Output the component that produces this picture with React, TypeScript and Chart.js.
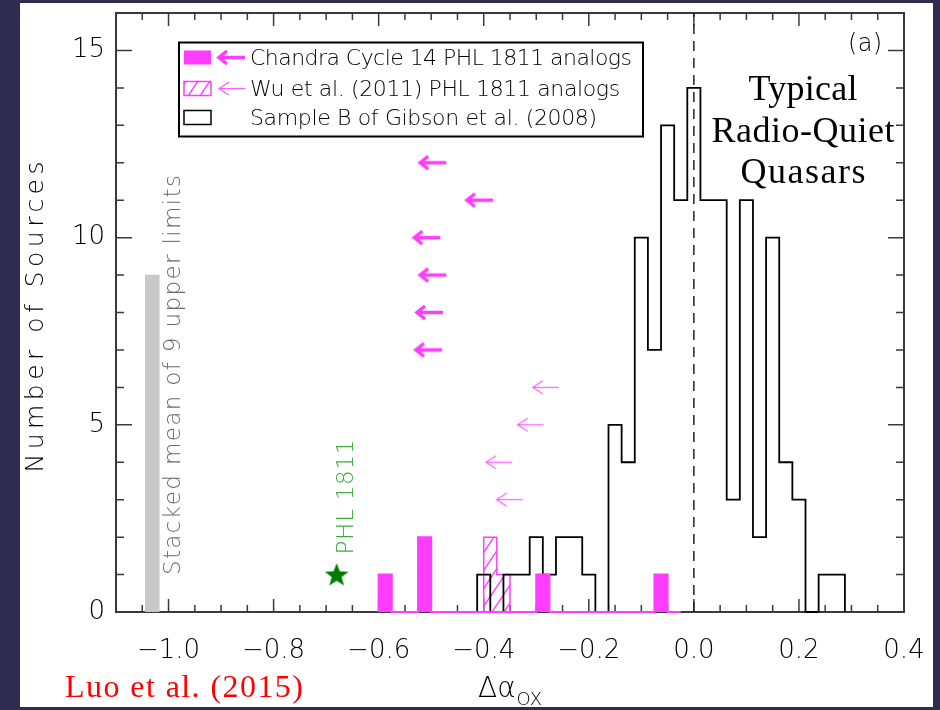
import React, { useEffect, useRef } from 'react';
import { Chart, registerables } from 'chart.js';

Chart.register(...registerables);

// ---------------- data ----------------
const BIN_WIDTH = 0.025;

// Sample B of Gibson et al. (2008): bin centres and counts
const gibsonBinCenters = [-0.4, -0.375, -0.35, -0.325, -0.3, -0.275, -0.25, -0.225, -0.2, -0.175, -0.15, -0.125, -0.1, -0.075, -0.05, -0.025, 0.0, 0.025, 0.05, 0.075, 0.1, 0.125, 0.15, 0.175, 0.2, 0.225, 0.25, 0.275];
const gibsonCounts = [1, 0, 1, 1, 2, 1, 2, 2, 1, 0, 5, 4, 10, 7, 13, 11, 14, 11, 11, 3, 11, 2, 10, 4, 3, 0, 1, 1];

// Chandra Cycle 14 PHL 1811 analogs (detections)
const chandraBinCenters = [-0.5875, -0.5625, -0.5375, -0.5125, -0.4875, -0.4625, -0.4375, -0.4125, -0.3875, -0.3625, -0.3375, -0.3125, -0.2875, -0.2625, -0.2375, -0.2125, -0.1875, -0.1625, -0.1375, -0.1125, -0.0875, -0.0625, -0.0375];
const chandraCounts = [1, 0, 0, 2, 0, 0, 0, 0, 0, 0, 0, 0, 1, 0, 0, 0, 0, 0, 0, 0, 0, 1, 0];

// Wu et al. (2011) PHL 1811 analogs (detections)
const wuBinCenters = [-0.3875, -0.3625];
const wuCounts = [2, 1];

// upper limits (arrows)
const chandraLimitX = [-0.525, -0.436, -0.536, -0.525, -0.531, -0.533];
const chandraLimitY = [12, 11, 10, 9, 8, 7];
const wuLimitX = [-0.308, -0.337, -0.397, -0.377];
const wuLimitY = [6, 5, 4, 3];

// PHL 1811 itself and the stacked mean of the 9 upper limits
const phl1811X = -0.68;
const phl1811Y = 1;
const stackedMeanX = -1.031;
const stackedMeanCount = 9;
const zeroLineX = 0;

const xTickValues = [-1.0, -0.8, -0.6, -0.4, -0.2, 0.0, 0.2, 0.4];
const yTickValues = [0, 5, 10, 15];
const X_MIN = -1.1;
const X_MAX = 0.4;
const Y_MIN = 0;
const Y_MAX = 16;

const legendLabels = [
  'Chandra Cycle 14 PHL 1811 analogs',
  'Wu et al. (2011) PHL 1811 analogs',
  'Sample B of Gibson et al. (2008)',
];

// ---------------- styles ----------------
const NAVY = '#2f2c50';
const MAGENTA = '#ff3cff';
const THIN_MAGENTA = '#ff5cff';
const AXIS = '#3a3a3a';
const GRAY_BAR = '#c8c8c8';
const SANS = '"DejaVu Sans ExtraLight", "DejaVu Sans", sans-serif';
const SERIF = '"Liberation Serif", "Times New Roman", serif';

function histogramOutline(centers: number[], counts: number[], width: number) {
  const h = width / 2;
  const pts: { x: number; y: number }[] = [];
  pts.push({ x: centers[0] - h, y: 0 });
  centers.forEach((c, i) => {
    pts.push({ x: c - h, y: counts[i] });
    pts.push({ x: c + h, y: counts[i] });
  });
  pts.push({ x: centers[centers.length - 1] + h, y: 0 });
  return pts;
}

function drawArrowShape(g: CanvasRenderingContext2D, tipX: number, y: number, len: number, headLen: number, headHalf: number, lw: number, color: string) {
  g.save();
  g.strokeStyle = color;
  g.lineWidth = lw;
  g.lineCap = 'butt';
  g.lineJoin = 'miter';
  g.beginPath();
  g.moveTo(tipX + len, y);
  g.lineTo(tipX, y);
  g.stroke();
  g.beginPath();
  g.moveTo(tipX + headLen, y - headHalf);
  g.lineTo(tipX, y);
  g.lineTo(tipX + headLen, y + headHalf);
  g.stroke();
  g.restore();
}

function makeArrowCanvas(len: number, headLen: number, headHalf: number, lw: number, color: string) {
  const c = document.createElement('canvas');
  const w = 2 * (len + 4);
  const h = 2 * (headHalf + 4);
  c.width = w;
  c.height = h;
  const g = c.getContext('2d')!;
  drawArrowShape(g, w / 2 + lw * 0.6, h / 2, len, headLen, headHalf, lw, color);
  return c;
}

function makeStarCanvas() {
  const c = document.createElement('canvas');
  c.width = 28;
  c.height = 28;
  const g = c.getContext('2d')!;
  g.fillStyle = '#007a00';
  g.beginPath();
  for (let i = 0; i < 10; i++) {
    const r = i % 2 === 0 ? 12.5 : 5.2;
    const a = -Math.PI / 2 + (i * Math.PI) / 5;
    const px = 14 + r * Math.cos(a);
    const py = 15 + r * Math.sin(a);
    if (i === 0) g.moveTo(px, py);
    else g.lineTo(px, py);
  }
  g.closePath();
  g.fill();
  return c;
}

function makeHatch(ctx: CanvasRenderingContext2D) {
  const c = document.createElement('canvas');
  const W = 12;
  const H = 18;
  c.width = W;
  c.height = H;
  const g = c.getContext('2d')!;
  g.strokeStyle = MAGENTA;
  g.lineWidth = 1.4;
  for (const dx of [-W, 0, W]) {
    g.beginPath();
    g.moveTo(dx - W, 2 * H);
    g.lineTo(dx + 2 * W, -H);
    g.stroke();
  }
  return ctx.createPattern(c, 'repeat')!;
}

function fitText(
  ctx: CanvasRenderingContext2D,
  text: string,
  o: { x: number; y: number; width: number; font: string; color: string; rotate?: boolean; align?: 'left' | 'center' }
) {
  ctx.save();
  ctx.font = o.font;
  ctx.fillStyle = o.color;
  (ctx as any).letterSpacing = '0px';
  const nat = ctx.measureText(text).width;
  const n = Array.from(text).length;
  const ls = n > 1 ? (o.width - nat) / (n - 1) : 0;
  (ctx as any).letterSpacing = ls.toFixed(2) + 'px';
  ctx.textAlign = 'left';
  ctx.textBaseline = 'alphabetic';
  if (o.rotate) {
    ctx.translate(o.x, o.y);
    ctx.rotate(-Math.PI / 2);
    ctx.fillText(text, -o.width / 2, 0);
  } else {
    const x0 = o.align === 'left' ? o.x : o.x - o.width / 2;
    ctx.fillText(text, x0, o.y);
  }
  ctx.restore();
}

function fmtX(value: any) {
  const v = Number(value);
  const s = Math.abs(v) < 1e-9 ? '0.0' : v.toFixed(1);
  return s.replace('-', '\u2212');
}

export default function App() {
  const ref = useRef<HTMLCanvasElement>(null);

  useEffect(() => {
    const canvas = ref.current!;
    const ctx0 = canvas.getContext('2d')!;
    const hatch = makeHatch(ctx0);
    const thickArrow = makeArrowCanvas(26, 8, 6.5, 3.5, MAGENTA);
    const thinArrow = makeArrowCanvas(26, 10, 6.5, 1.2, THIN_MAGENTA);
    const star = makeStarCanvas();

    const decor = {
      id: 'decor',
      beforeDraw(chart: any) {
        const { ctx } = chart;
        ctx.save();
        ctx.fillStyle = NAVY;
        ctx.fillRect(0, 0, 940, 710);
        ctx.fillStyle = '#ffffff';
        ctx.fillRect(20, 3, 913, 704);
        ctx.restore();
      },
      beforeDatasetsDraw(chart: any) {
        const { ctx, chartArea: a } = chart;
        const xs = chart.scales.x;
        const ys = chart.scales.y;
        ctx.save();
        ctx.strokeStyle = AXIS;
        ctx.lineWidth = 2;
        ctx.strokeRect(a.left, a.top, a.right - a.left, a.bottom - a.top);
        ctx.lineWidth = 1.5;
        // x ticks (major at each tick value, minor in quarters)
        const xStep = (xTickValues[1] - xTickValues[0]) / 4;
        const k0 = Math.ceil(X_MIN / xStep - 1e-6);
        const k1 = Math.floor(X_MAX / xStep + 1e-6);
        for (let k = k0; k <= k1; k++) {
          const v = k * xStep;
          const major = xTickValues.some((t) => Math.abs(t - v) < 1e-6);
          const len = major ? 13 : 7;
          const px = xs.getPixelForValue(v);
          ctx.beginPath();
          ctx.moveTo(px, a.bottom);
          ctx.lineTo(px, a.bottom - len);
          ctx.moveTo(px, a.top);
          ctx.lineTo(px, a.top + len);
          ctx.stroke();
        }
        const yStep = (yTickValues[1] - yTickValues[0]) / 5;
        for (let v = Y_MIN; v <= Y_MAX + 1e-6; v += yStep) {
          const major = yTickValues.some((t) => Math.abs(t - v) < 1e-6);
          const len = major ? 16 : 8;
          const py = ys.getPixelForValue(v);
          ctx.beginPath();
          ctx.moveTo(a.left, py);
          ctx.lineTo(a.left + len, py);
          ctx.moveTo(a.right, py);
          ctx.lineTo(a.right - len, py);
          ctx.stroke();
        }
        ctx.restore();
      },
      afterDatasetsDraw(chart: any) {
        const { ctx } = chart;
        // legend
        const lx0 = 179, ly0 = 42.5, lx1 = 643, ly1 = 136.5;
        ctx.save();
        ctx.fillStyle = '#ffffff';
        ctx.fillRect(lx0, ly0, lx1 - lx0, ly1 - ly0);
        ctx.strokeStyle = '#000';
        ctx.lineWidth = 2;
        ctx.strokeRect(lx0, ly0, lx1 - lx0, ly1 - ly0);
        const baselines = [65, 96, 125];
        const widths = [382, 370, 347];
        baselines.forEach((b, i) => {
          const ry = b - 14.5;
          if (i === 0) {
            ctx.fillStyle = MAGENTA;
            ctx.fillRect(184, ry, 27, 14);
            drawArrowShape(ctx, 219, ry + 7, 26, 8, 6.5, 3.5, MAGENTA);
          } else if (i === 1) {
            ctx.fillStyle = hatch;
            ctx.fillRect(184, ry, 27, 14);
            ctx.strokeStyle = MAGENTA;
            ctx.lineWidth = 1.5;
            ctx.strokeRect(184, ry, 27, 14);
            drawArrowShape(ctx, 219, ry + 7, 26, 10, 6.5, 1.2, THIN_MAGENTA);
          } else {
            ctx.strokeStyle = '#000';
            ctx.lineWidth = 1.5;
            ctx.strokeRect(184, ry, 27, 14);
          }
          fitText(ctx, legendLabels[i], { x: 250, y: b, width: widths[i], font: `200 22px ${SANS}`, color: '#000', align: 'left' });
        });
        ctx.restore();

        // panel label and annotation
        fitText(ctx, '(a)', { x: 865, y: 51, width: 34, font: `200 24px ${SANS}`, color: '#000' });
        fitText(ctx, 'Typical', { x: 803, y: 100, width: 109, font: `36px ${SERIF}`, color: '#000' });
        fitText(ctx, 'Radio-Quiet', { x: 803, y: 142, width: 183, font: `36px ${SERIF}`, color: '#000' });
        fitText(ctx, 'Quasars', { x: 803, y: 183, width: 125, font: `36px ${SERIF}`, color: '#000' });

        fitText(ctx, 'Stacked mean of 9 upper limits', { x: 180, y: 375, width: 400, font: `200 23px ${SANS}`, color: '#6a6a6a', rotate: true });
        fitText(ctx, 'PHL 1811', { x: 353, y: 497, width: 115, font: `200 23px ${SANS}`, color: '#3fae3f', rotate: true });
      },
      afterDraw(chart: any) {
        const { ctx } = chart;
        fitText(ctx, 'Number of Sources', { x: 43, y: 317, width: 311, font: `200 25px ${SANS}`, color: '#000', rotate: true });
        // x-axis title: Δα with subscript OX
        ctx.save();
        ctx.fillStyle = '#000';
        ctx.textAlign = 'left';
        ctx.textBaseline = 'alphabetic';
        ctx.font = `200 28px ${SANS}`;
        ctx.fillText('\u0394\u03b1', 478, 697);
        const w = ctx.measureText('\u0394\u03b1').width;
        ctx.font = `200 18px ${SANS}`;
        ctx.fillText('OX', 478 + w + 1, 705);
        ctx.restore();
        fitText(ctx, 'Luo et al. (2015)', { x: 65, y: 697, width: 238, font: `32px ${SERIF}`, color: '#ff0000', align: 'left' });
      },
    };

    const config: any = {
      type: 'scatter',
      data: {
        datasets: [
          {
            type: 'bar',
            label: 'Stacked mean',
            data: [{ x: stackedMeanX, y: stackedMeanCount }],
            backgroundColor: GRAY_BAR,
            borderWidth: 0,
            barThickness: 14,
            grouped: false,
            order: 9,
          },
          {
            type: 'line',
            label: legendLabels[1],
            data: histogramOutline(wuBinCenters, wuCounts, BIN_WIDTH),
            borderColor: MAGENTA,
            borderWidth: 1.5,
            backgroundColor: hatch,
            fill: 'origin',
            pointRadius: 0,
            tension: 0,
            clip: false,
            order: 8,
          },
          {
            type: 'line',
            label: legendLabels[2],
            data: histogramOutline(gibsonBinCenters, gibsonCounts, BIN_WIDTH),
            borderColor: '#000',
            borderWidth: 1.8,
            fill: false,
            pointRadius: 0,
            tension: 0,
            clip: false,
            order: 7,
          },
          {
            type: 'line',
            label: legendLabels[0],
            data: histogramOutline(chandraBinCenters, chandraCounts, BIN_WIDTH),
            borderColor: MAGENTA,
            backgroundColor: MAGENTA,
            borderWidth: 2,
            fill: 'origin',
            pointRadius: 0,
            tension: 0,
            clip: false,
            order: 6,
          },
          {
            type: 'line',
            label: 'zero',
            data: [
              { x: zeroLineX, y: Y_MIN },
              { x: zeroLineX, y: Y_MAX },
            ],
            borderColor: '#222',
            borderWidth: 1.5,
            borderDash: [10, 7],
            pointRadius: 0,
            fill: false,
            order: 5,
          },
          {
            type: 'scatter',
            label: 'Wu limits',
            data: wuLimitX.map((x, i) => ({ x, y: wuLimitY[i] })),
            pointStyle: thinArrow,
            pointRadius: 3,
            pointHoverRadius: 3,
            order: 4,
          },
          {
            type: 'scatter',
            label: 'Chandra limits',
            data: chandraLimitX.map((x, i) => ({ x, y: chandraLimitY[i] })),
            pointStyle: thickArrow,
            pointRadius: 3,
            pointHoverRadius: 3,
            order: 3,
          },
          {
            type: 'scatter',
            label: 'PHL 1811',
            data: [{ x: phl1811X, y: phl1811Y }],
            pointStyle: star,
            pointRadius: 3,
            pointHoverRadius: 3,
            order: 2,
          },
        ],
      },
      options: {
        animation: false,
        responsive: false,
        maintainAspectRatio: false,
        devicePixelRatio: 1,
        events: [],
        layout: { padding: { left: 20, right: 36, top: 13, bottom: 0 } },
        plugins: { legend: { display: false }, tooltip: { enabled: false } },
        scales: {
          x: {
            type: 'linear',
            min: X_MIN,
            max: X_MAX,
            offset: false,
            grid: { display: false, drawTicks: false },
            border: { display: false },
            afterBuildTicks: (s: any) => {
              s.ticks = xTickValues.map((v) => ({ value: v }));
            },
            afterFit: (s: any) => {
              s.height = 98;
              s.paddingLeft = 0;
              s.paddingRight = 0;
              s.paddingTop = 0;
              s.paddingBottom = 0;
            },
            ticks: {
              autoSkip: false,
              maxRotation: 0,
              padding: 24,
              color: '#000',
              font: { family: SANS, size: 26, weight: '200' },
              callback: fmtX,
            },
          },
          y: {
            type: 'linear',
            min: Y_MIN,
            max: Y_MAX,
            grid: { display: false, drawTicks: false },
            border: { display: false },
            afterBuildTicks: (s: any) => {
              s.ticks = yTickValues.map((v) => ({ value: v }));
            },
            afterFit: (s: any) => {
              s.width = 96;
              s.paddingLeft = 0;
              s.paddingRight = 0;
              s.paddingTop = 0;
              s.paddingBottom = 0;
            },
            ticks: {
              padding: 11,
              color: '#000',
              font: { family: SANS, size: 26, weight: '200' },
              callback: (v: any) => String(v),
            },
          },
        },
      },
      plugins: [decor],
    };

    const chart = new Chart(canvas, config);
    return () => chart.destroy();
  }, []);

  return (
    <div style={{ position: 'fixed', left: 0, top: 0, width: 940, height: 710, background: NAVY }}>
      <canvas ref={ref} width={940} height={710} style={{ display: 'block', width: 940, height: 710 }} />
    </div>
  );
}
